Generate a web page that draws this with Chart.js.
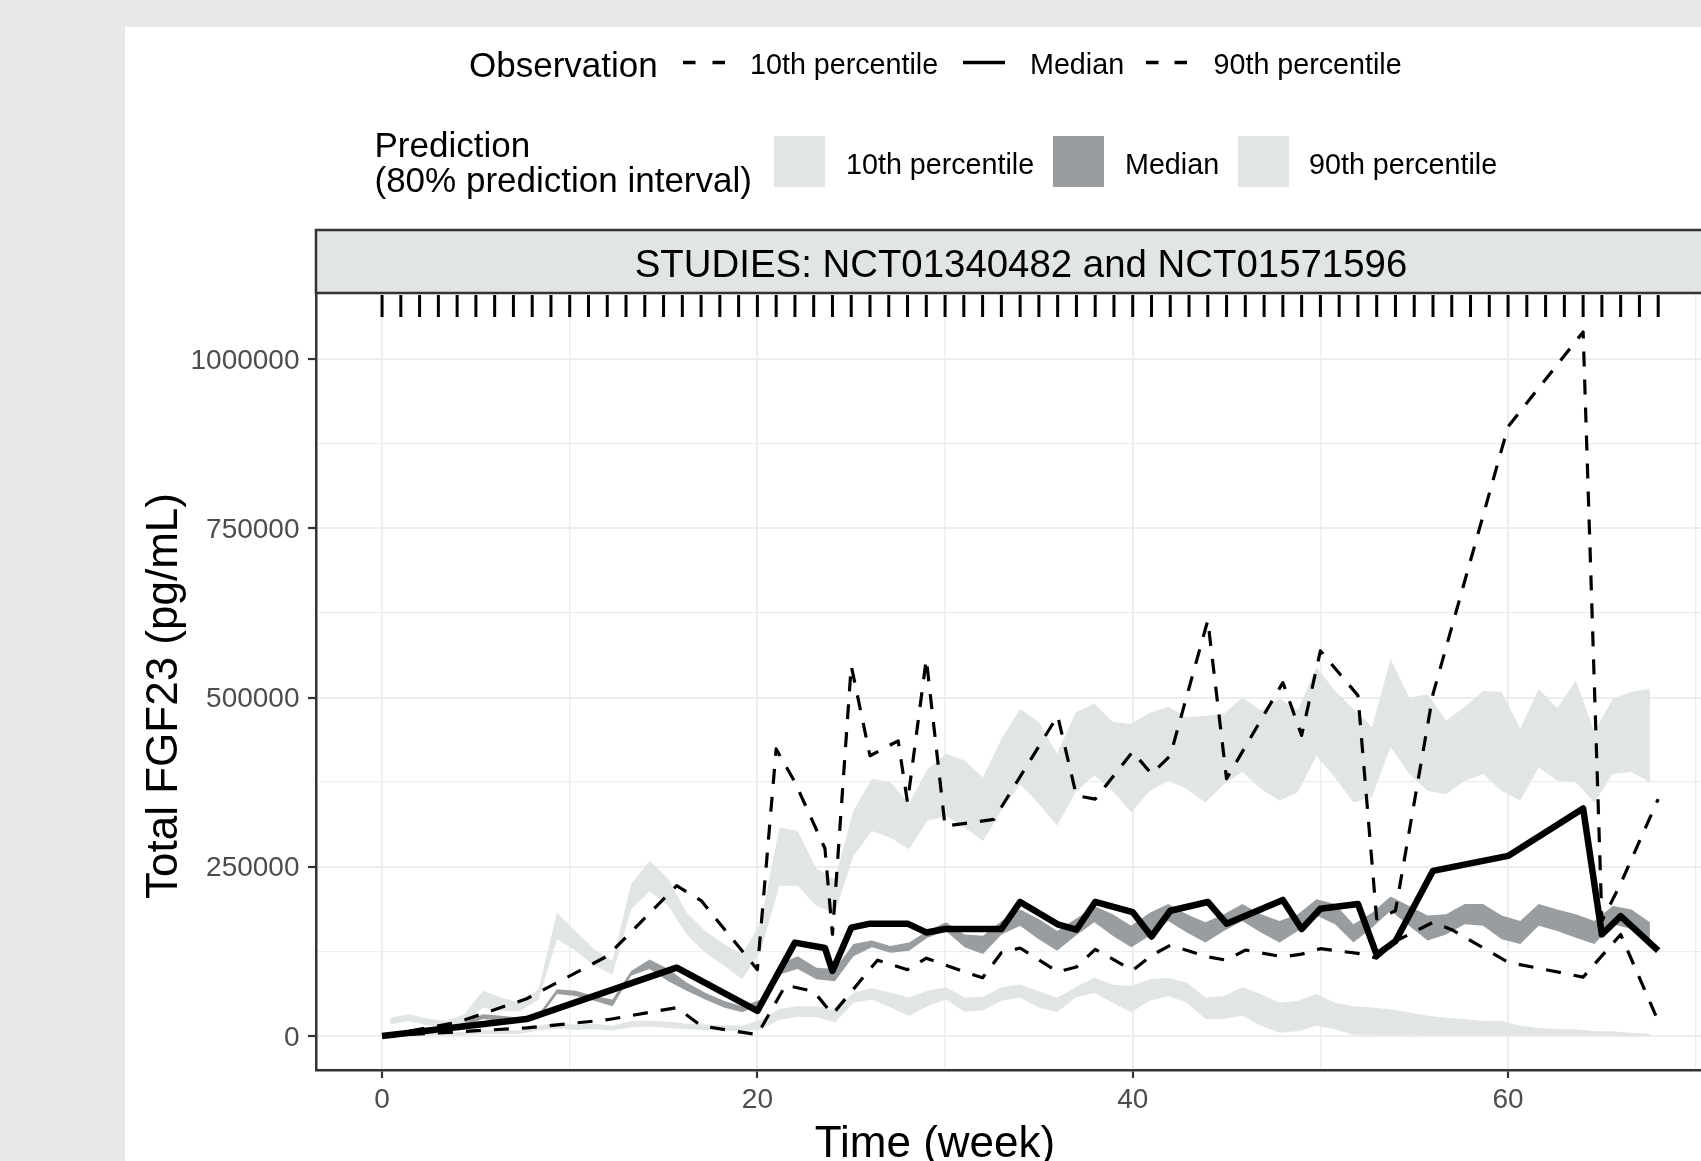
<!DOCTYPE html>
<html><head><meta charset="utf-8">
<script src="https://cdn.jsdelivr.net/npm/chart.js@4/dist/chart.umd.min.js"></script>
<style>
html,body{margin:0;padding:0;overflow:hidden;background:#e8e8e6;width:1701px;height:1161px;}
#card{position:absolute;left:125px;top:27px;width:1700px;height:1200px;background:#ffffff;}
#wrap{position:absolute;left:0;top:0;width:1760px;height:1161px;}
</style></head><body>
<div id="card"></div>
<div id="wrap"><canvas id="c" width="1760" height="1161"></canvas></div>
<script>
// ---------- data ----------
const rugWeeks = [0,1,2,3,4,5,6,7,8,9,10,11,12,13,14,15,16,17,18,19,20,21,22,23,24,25,26,27,28,29,30,31,32,33,34,35,36,37,38,39,40,41,42,43,44,45,46,47,48,49,50,51,52,53,54,55,56,57,58,59,60,61,62,63,64,65,66,67,68];

const obsMedWeeks  = [0, 7.7, 15.7, 20, 22, 23.6, 24, 25, 26, 28, 29, 30, 33, 34, 36, 37, 38, 40, 41, 42, 44, 45, 48, 49, 50, 52, 53, 54, 56, 60, 64, 65, 66, 68];
const obsMedValues = [0, 25000, 101000, 37000, 138000, 130000, 96000, 160000, 166000, 166000, 153000, 158000, 158000, 198000, 165000, 157000, 198000, 183000, 147000, 185000, 198000, 166000, 201000, 158000, 188000, 195000, 120000, 140000, 244000, 266000, 336000, 150000, 177000, 126000];

const obsP90Weeks  = [0, 4, 7.7, 12, 15.7, 17, 20, 21, 22, 23.6, 24, 25, 26, 27.5, 28, 29, 30, 32.6, 36, 37, 38, 40, 41, 42, 44, 45, 48, 49, 50, 52, 53, 54, 56, 60, 64, 65, 66, 68];
const obsP90Values = [0, 20000, 55000, 118000, 222000, 200000, 98000, 424000, 375000, 277000, 150000, 547000, 414000, 436000, 345000, 557000, 310000, 320000, 473000, 355000, 350000, 420000, 387000, 414000, 614000, 380000, 522000, 444000, 569000, 503000, 173000, 185000, 505000, 900000, 1040000, 170000, 225000, 350000];

const obsP10Weeks  = [0, 7.7, 12, 15.7, 17, 20, 21.5, 23, 24, 26.4, 28, 29, 31, 32, 33, 34, 36, 37, 38, 40, 41, 42, 44, 45, 46, 48, 49, 50, 52, 53, 54, 56, 57, 60, 64, 66, 68];
const obsP10Values = [0, 12000, 24000, 42000, 15000, 2000, 75000, 66000, 32000, 112000, 98000, 115000, 95000, 86000, 123000, 130000, 95000, 102000, 128000, 97000, 119000, 134000, 117000, 112000, 127000, 117000, 121000, 129000, 122000, 115000, 140000, 168000, 157000, 109000, 87000, 150000, 22000];

const bandTimes = [0.44,1.43,2.41,3.40,4.39,5.38,6.36,7.35,8.34,9.32,10.31,11.30,12.28,13.27,14.26,15.25,16.23,17.22,18.21,19.19,20.18,21.17,22.15,23.14,24.13,25.12,26.10,27.09,28.08,29.06,30.05,31.04,32.02,33.01,34.00,34.99,35.97,36.96,37.95,38.93,39.92,40.91,41.89,42.88,43.87,44.86,45.84,46.83,47.82,48.80,49.79,50.78,51.76,52.75,53.74,54.73,55.71,56.70,57.69,58.67,59.66,60.65,61.63,62.62,63.61,64.60,65.58,66.57,67.56];

const predP10Low  = [1000,2000,2000,1000,2000,3000,3000,3000,8000,11000, 9000,10000,8000,13000,14000,12000,10000,9000,8000,7000, 10000,24000,28000,28000,20000,49000,54000,42000,30000,44000, 54000,36000,38000,52000,57000,42000,35000,57000,64000,49000, 35000,52000,59000,49000,25000,25000,30000,15000,5000,7000, 15000,10000,2000,2000,0,2000,1000,1000,1000,1000, 1000,0,0,0,0,0,0,0,0];
const predP10High = [5000,7000,6000,5000,6000,9000,8000,8000,15000,20000, 17000,18000,15000,22000,23000,21000,18000,17000,16000,15000, 24000,40000,44000,44000,38000,64000,71000,64000,57000,67000, 72000,57000,58000,72000,76000,66000,57000,72000,86000,76000, 74000,84000,86000,79000,57000,59000,72000,62000,49000,52000, 62000,49000,44000,42000,39000,35000,30000,27000,25000,22000, 22000,15000,12000,10000,10000,7000,7000,5000,3000];

const predMedLow  = [1000,2000,5000,7000,15000,25000,22000,20000,25000,62000, 59000,52000,44000,89000,99000,81000,67000,54000,42000,35000, 47000,91000,99000,84000,81000,118000,131000,123000,126000,145000, 155000,131000,121000,150000,163000,143000,126000,148000,168000,148000, 131000,148000,170000,153000,138000,155000,170000,153000,138000,155000, 178000,165000,138000,160000,185000,163000,141000,150000,165000,163000, 143000,136000,163000,155000,145000,136000,165000,158000,141000];
const predMedHigh = [3000,7000,10000,12000,20000,32000,30000,27000,32000,69000, 67000,59000,54000,96000,113000,99000,79000,64000,52000,44000, 54000,106000,118000,101000,99000,136000,141000,133000,138000,155000, 168000,150000,148000,170000,187000,173000,155000,173000,192000,180000, 163000,182000,195000,180000,168000,180000,195000,180000,170000,180000, 202000,195000,165000,182000,206000,192000,178000,180000,195000,195000, 178000,170000,195000,187000,180000,170000,192000,187000,168000];

const predP90Low  = [17000,22000,16000,12000,20000,42000,37000,37000,54000,143000, 126000,104000,91000,187000,214000,192000,150000,123000,104000,84000, 126000,222000,222000,192000,182000,266000,303000,293000,276000,318000, 325000,308000,288000,333000,372000,343000,311000,360000,385000,362000, 330000,362000,377000,365000,345000,372000,390000,365000,348000,360000, 414000,382000,345000,353000,427000,387000,362000,357000,377000,387000, 362000,348000,397000,377000,375000,345000,387000,390000,375000];
const predP90High = [27000,32000,26000,22000,32000,67000,57000,49000,69000,182000, 155000,128000,111000,224000,259000,232000,182000,155000,136000,121000, 168000,308000,303000,247000,232000,333000,380000,375000,343000,394000, 417000,407000,382000,439000,483000,464000,417000,478000,491000,464000, 461000,478000,486000,471000,473000,476000,500000,481000,498000,481000, 545000,510000,483000,456000,557000,500000,505000,466000,486000,510000, 508000,454000,513000,484000,525000,449000,498000,508000,513000];

const yMajorTicks = [0, 250000, 500000, 750000, 1000000];
const yMinorTicks = [125000, 375000, 625000, 875000];
const xMajorTicks = [0, 20, 40, 60];
const xMinorTicks = [10, 30, 50, 70];

const obsLegendLabels  = ['10th percentile', 'Median', '90th percentile'];
const predLegendLabels = ['10th percentile', 'Median', '90th percentile'];

// ---------- styles ----------
const LIGHT = '#e2e5e6', DARK = '#999d9f', GRID = '#ebedee', AXIS = '#333333', TICKTXT = '#4d4d4d';
const FONT = '"Liberation Sans", Arial, Helvetica, sans-serif';

const toPts = (xs, ys) => xs.map((x, i) => ({x: x, y: ys[i]}));
const lineDs = (label, xs, ys, width, dash, order) => ({
  label, data: toPts(xs, ys), borderColor: '#000', borderWidth: width, borderDash: dash,
  borderCapStyle: 'butt', borderJoinStyle: 'round', pointRadius: 0, pointHoverRadius: 0,
  tension: 0, fill: false, order
});
const bandPair = (label, xs, lo, hi, color, order) => [
  {label: label + ' low', data: toPts(xs, lo), borderWidth: 0, borderColor: 'rgba(0,0,0,0)', pointRadius: 0, fill: false, order},
  {label: label + ' high', data: toPts(xs, hi), borderWidth: 0, borderColor: 'rgba(0,0,0,0)', pointRadius: 0, fill: '-1', backgroundColor: color, order}
];

const datasets = [
  ...bandPair('Pred 10th', bandTimes, predP10Low, predP10High, LIGHT, 30),
  ...bandPair('Pred 90th', bandTimes, predP90Low, predP90High, LIGHT, 30),
  ...bandPair('Pred median', bandTimes, predMedLow, predMedHigh, DARK, 20),
  lineDs('Obs 10th', obsP10Weeks, obsP10Values, 3.2, [15, 13], 3),
  lineDs('Obs 90th', obsP90Weeks, obsP90Values, 3.2, [15, 13], 2),
  lineDs('Obs median', obsMedWeeks, obsMedValues, 6.5, [], 0)
];

const isIn = (arr, v) => arr.some(a => Math.abs(a - v) < 1e-6);

function txt(ctx, s, x, y, size, align, color) {
  ctx.font = size + 'px ' + FONT;
  ctx.fillStyle = color || '#000';
  ctx.textAlign = align || 'left';
  ctx.textBaseline = 'alphabetic';
  ctx.fillText(s, x, y);
}

const decor = {
  id: 'decor',
  afterDatasetsDraw(chart) {
    const ctx = chart.ctx, ca = chart.chartArea, xs = chart.scales.x;
    ctx.save();
    ctx.strokeStyle = '#000'; ctx.lineWidth = 3; ctx.lineCap = 'butt';
    ctx.beginPath();
    rugWeeks.forEach(w => {
      const px = xs.getPixelForValue(w);
      ctx.moveTo(px, ca.top + 2); ctx.lineTo(px, ca.top + 24);
    });
    ctx.stroke();
    ctx.restore();
  },
  afterDraw(chart) {
    const ctx = chart.ctx, ca = chart.chartArea;
    ctx.save();
    // strip
    ctx.fillStyle = LIGHT;
    ctx.fillRect(ca.left, 230, chart.width - ca.left + 10, ca.top - 230);
    ctx.strokeStyle = AXIS; ctx.lineWidth = 2.5;
    ctx.beginPath();
    ctx.moveTo(chart.width + 10, 230); ctx.lineTo(ca.left, 230); ctx.lineTo(ca.left, ca.top); ctx.lineTo(chart.width + 10, ca.top);
    ctx.stroke();
    txt(ctx, 'STUDIES: NCT01340482 and NCT01571596', 1021, 276.5, 38.4, 'center');

    // legend row 1 (observation)
    txt(ctx, 'Observation', 469, 76.5, 35);
    ctx.strokeStyle = '#000'; ctx.lineWidth = 3.3; ctx.lineCap = 'butt';
    const key = (x0, x1, dash) => {
      ctx.setLineDash(dash); ctx.beginPath(); ctx.moveTo(x0, 62.5); ctx.lineTo(x1, 62.5); ctx.stroke(); ctx.setLineDash([]);
    };
    key(683, 725, [12.5, 17]);
    txt(ctx, obsLegendLabels[0], 750, 74, 28.7);
    key(963, 1005, []);
    txt(ctx, obsLegendLabels[1], 1030, 74, 28.7);
    key(1146, 1187, [12.5, 16]);
    txt(ctx, obsLegendLabels[2], 1213.5, 74, 28.7);

    // legend row 2 (prediction)
    txt(ctx, 'Prediction', 374.5, 157, 35);
    txt(ctx, '(80% prediction interval)', 374.5, 191.5, 35);
    ctx.fillStyle = LIGHT; ctx.fillRect(774, 136, 51, 51);
    txt(ctx, predLegendLabels[0], 846, 173.5, 28.7);
    ctx.fillStyle = DARK; ctx.fillRect(1053, 136, 51, 51);
    txt(ctx, predLegendLabels[1], 1125, 173.5, 28.7);
    ctx.fillStyle = LIGHT; ctx.fillRect(1238, 136, 51, 51);
    txt(ctx, predLegendLabels[2], 1309, 173.5, 28.7);

    // axis titles
    txt(ctx, 'Time (week)', 935, 1156.5, 44, 'center');
    ctx.save();
    ctx.translate(177, 696); ctx.rotate(-Math.PI / 2);
    txt(ctx, 'Total FGF23 (pg/mL)', 0, 0, 44, 'center');
    ctx.restore();
    ctx.restore();
  }
};

new Chart(document.getElementById('c'), {
  type: 'line',
  data: {datasets},
  options: {
    responsive: false, devicePixelRatio: 1, animation: false, events: [],
    layout: {padding: {left: 0, top: 293, right: 38, bottom: 0}},
    plugins: {legend: {display: false}, tooltip: {enabled: false}},
    scales: {
      x: {
        type: 'linear', min: -3.52, max: 71.4,
        afterBuildTicks: s => { s.ticks = [...xMajorTicks, ...xMinorTicks].sort((a, b) => a - b).map(v => ({value: v})); },
        afterFit: s => { s.height = 91; },
        ticks: {autoSkip: false, maxRotation: 0, padding: 5, color: TICKTXT, font: {family: FONT, size: 28},
          callback: v => isIn(xMajorTicks, v) ? String(v) : ''},
        grid: {
          color: GRID,
          lineWidth: c => (c.tick && isIn(xMajorTicks, c.tick.value)) ? 2 : 1.3,
          tickColor: c => (c.tick && isIn(xMajorTicks, c.tick.value)) ? AXIS : 'rgba(0,0,0,0)',
          tickLength: 8, tickWidth: 2.2, drawTicks: true
        },
        border: {display: true, color: AXIS, width: 2.5}
      },
      y: {
        type: 'linear', min: -50200, max: 1097500,
        afterBuildTicks: s => { s.ticks = [...yMajorTicks, ...yMinorTicks].sort((a, b) => a - b).map(v => ({value: v})); },
        afterFit: s => { s.width = 316; },
        ticks: {autoSkip: false, padding: 8.5, labelOffset: 2, color: TICKTXT, font: {family: FONT, size: 28},
          callback: v => isIn(yMajorTicks, v) ? String(v) : ''},
        grid: {
          color: GRID,
          lineWidth: c => (c.tick && isIn(yMajorTicks, c.tick.value)) ? 2 : 1.3,
          tickColor: c => (c.tick && isIn(yMajorTicks, c.tick.value)) ? AXIS : 'rgba(0,0,0,0)',
          tickLength: 8, tickWidth: 2.2, drawTicks: true
        },
        border: {display: true, color: AXIS, width: 2.5}
      }
    }
  },
  plugins: [decor]
});
</script>
</body></html>
